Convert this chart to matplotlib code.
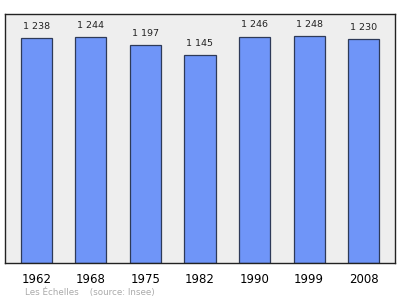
import matplotlib
matplotlib.use("Agg")
import matplotlib.pyplot as plt

# ---------------- DATA ----------------
years = ["1962", "1968", "1975", "1982", "1990", "1999", "2008"]
population = [1238, 1244, 1197, 1145, 1246, 1248, 1230]
value_labels = ["1 238", "1 244", "1 197", "1 145", "1 246", "1 248", "1 230"]

# ---------------- FIGURE ----------------
fig = plt.figure(figsize=(4.0, 2.99), dpi=100)
ax = fig.add_axes([5 / 400, 1 - 263 / 299, 390 / 400, 249 / 299])
ax.set_facecolor("#eeeeee")

x = range(len(years))
ax.bar(x, population, width=0.57, color="#6f95f8", edgecolor="#2e3a58", linewidth=0.9)

for i, v in enumerate(population):
    ax.text(i, v + 40, value_labels[i], ha="center", va="bottom", fontsize=6.8, color="#222222")

ax.set_xlim(-0.575, 6.575)
ax.set_ylim(0, 1370)
ax.set_xticks(list(x))
ax.set_xticklabels(years, fontsize=8.5)
ax.tick_params(axis="x", length=0, pad=7)
ax.set_yticks([])

for s in ax.spines.values():
    s.set_color("#222222")
    s.set_linewidth(1)

fig.text(25 / 400, 1 - 292 / 299, "Les Échelles    (source: Insee)", fontsize=6.3,
         color="#aaaaaa", va="center")

fig.savefig("out.png", dpi=100)
